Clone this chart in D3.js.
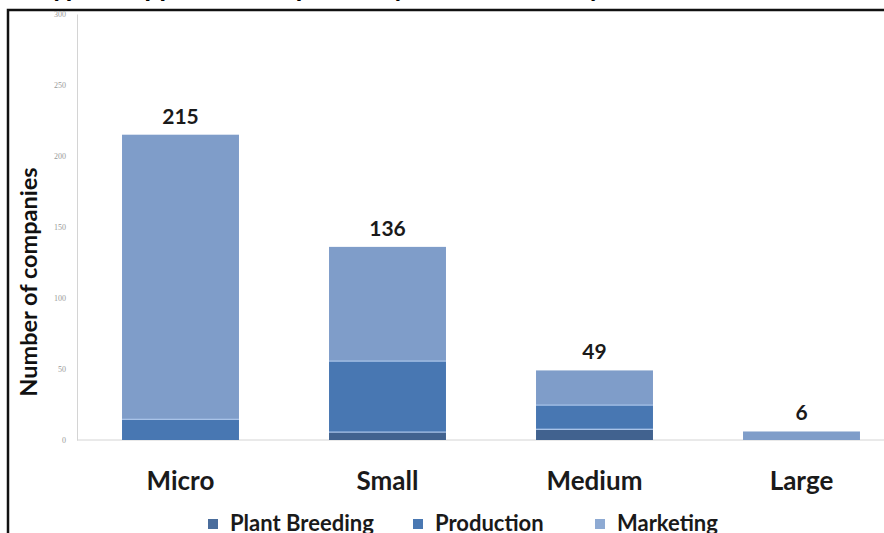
<!DOCTYPE html>
<html>
<head>
<meta charset="utf-8">
<script src="https://cdn.jsdelivr.net/npm/d3@7"></script>
<style>
  body { margin: 0; background: #fff; }
  svg { display: block; font-family: Lato, 'Open Sans', sans-serif; }
</style>
</head>
<body>
<div id="chart"></div>
<script>
const categories = ['Micro', 'Small', 'Medium', 'Large']
const plantBreeding = [0, 6, 8, 0]
const production = [15, 50, 17, 0]
const marketing = [200, 80, 24, 6]
const totals = [215, 136, 49, 6]
const seriesNames = ['Plant Breeding', 'Production', 'Marketing']
const yTicks = [0, 50, 100, 150, 200, 250, 300]

const width = 884
const height = 533

const colors = {
  'Plant Breeding': '#41628f',
  Production: '#4877b2',
  Marketing: '#7f9dc9'
}
const legendColors = {
  'Plant Breeding': '#4a6d9c',
  Production: '#4a78b2',
  Marketing: '#8eaad3'
}

const rows = categories.map((c, i) => ({
  cat: c,
  'Plant Breeding': plantBreeding[i],
  Production: production[i],
  Marketing: marketing[i],
  total: totals[i]
}))

const svg = d3.select('#chart')
  .append('svg')
  .attr('width', width)
  .attr('height', height)

const x = d3.scaleBand()
  .domain(categories)
  .range([77, 905])
  .paddingInner(0.435)
  .paddingOuter(0.2175)

const y = d3.scaleLinear().domain([0, 300]).range([440, 14])

// title of the page above, only its descenders show
svg.append('text')
  .attr('x', 40)
  .attr('y', -4)
  .attr('font-size', 28)
  .attr('font-weight', 'bold')
  .attr('font-style', 'italic')
  .attr('fill', '#000')
  .text('Type of applicant companies by size and activity')

// frame
svg.append('path')
  .attr('d', 'M8,533V10H884')
  .attr('fill', 'none')
  .attr('stroke', '#111')
  .attr('stroke-width', 2.5)

// y axis
const yAxis = svg.append('g')
  .attr('transform', 'translate(77,0)')
  .call(d3.axisLeft(y).tickValues(yTicks).tickSize(0).tickPadding(11))
yAxis.select('.domain').attr('stroke', '#d4d4d4')
yAxis.selectAll('text')
  .attr('font-size', 8)
  .attr('fill', '#999')
  .attr('font-family', 'Liberation Serif, serif')

// baseline
svg.append('line')
  .attr('x1', 77).attr('x2', 905)
  .attr('y1', y(0)).attr('y2', y(0))
  .attr('stroke', '#d4d4d4')

svg.append('text')
  .attr('transform', `translate(37,${282}) rotate(-90)`)
  .attr('text-anchor', 'middle')
  .attr('font-size', 23.5)
  .attr('font-weight', 'bold')
  .attr('fill', '#111')
  .text('Number of companies')

// stacked bars
const stacked = d3.stack().keys(seriesNames)(rows)

const layers = svg.selectAll('.layer')
  .data(stacked)
  .enter()
  .append('g')
  .attr('class', 'layer')
  .attr('fill', d => colors[d.key])

layers.selectAll('rect')
  .data(d => d)
  .enter()
  .append('rect')
  .attr('x', d => x(d.data.cat))
  .attr('width', x.bandwidth())
  .attr('y', d => y(d[1]))
  .attr('height', d => y(d[0]) - y(d[1]))

// light separators between segments
layers.selectAll('.sep')
  .data(d => d.filter(v => v[1] > v[0] && v[1] < v.data.total))
  .enter()
  .append('line')
  .attr('class', 'sep')
  .attr('x1', d => x(d.data.cat))
  .attr('x2', d => x(d.data.cat) + x.bandwidth())
  .attr('y1', d => y(d[1]))
  .attr('y2', d => y(d[1]))
  .attr('stroke', '#a9c3e8')
  .attr('stroke-width', 2.5)

// value labels
svg.selectAll('.value')
  .data(rows)
  .enter()
  .append('text')
  .attr('class', 'value')
  .attr('x', d => x(d.cat) + x.bandwidth() / 2)
  .attr('y', d => y(d.total) - 11)
  .attr('text-anchor', 'middle')
  .attr('font-size', 21)
  .attr('font-weight', 'bold')
  .attr('fill', '#1a1a1a')
  .text(d => d.total)

// category labels
svg.selectAll('.cat')
  .data(categories)
  .enter()
  .append('text')
  .attr('class', 'cat')
  .attr('x', d => x(d) + x.bandwidth() / 2)
  .attr('y', 490)
  .attr('text-anchor', 'middle')
  .attr('font-size', 26)
  .attr('font-weight', 'bold')
  .attr('fill', '#1a1a1a')
  .text(d => d)

// legend
const legendX = [208, 413, 595]
const legend = svg.selectAll('.legend')
  .data(seriesNames)
  .enter()
  .append('g')
  .attr('class', 'legend')
  .attr('transform', (d, i) => `translate(${legendX[i]},0)`)

legend.append('rect')
  .attr('x', 0)
  .attr('y', 519)
  .attr('width', 10)
  .attr('height', 10)
  .attr('fill', d => legendColors[d])

legend.append('text')
  .attr('x', 22)
  .attr('y', 531)
  .attr('font-size', 22)
  .attr('font-weight', 'bold')
  .attr('fill', '#1a1a1a')
  .text(d => d)
</script>
</body>
</html>
